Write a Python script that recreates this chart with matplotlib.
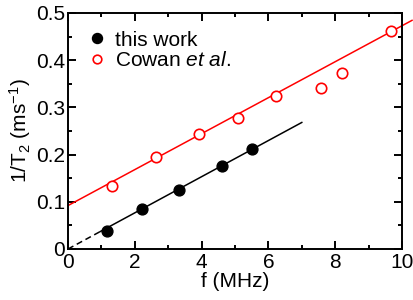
import matplotlib
matplotlib.use("Agg")
import matplotlib.pyplot as plt
import numpy as np

plt.rcParams['font.family'] = ['Liberation Sans', 'DejaVu Sans']
plt.rcParams['mathtext.fontset'] = 'custom'
plt.rcParams['mathtext.rm'] = 'Liberation Sans'
plt.rcParams['mathtext.it'] = 'Liberation Sans:italic'

# data
this_f = [1.16, 2.22, 3.32, 4.60, 5.50]
this_r = [0.039, 0.084, 0.126, 0.176, 0.212]
cowan_f = [1.31, 2.63, 3.93, 5.10, 6.23, 7.57, 8.20, 9.68]
cowan_r = [0.1335, 0.1956, 0.2436, 0.278, 0.3235, 0.341, 0.3735, 0.461]
fit_this_slope, fit_this_icpt = 0.0383, 0.0
fit_cowan_slope, fit_cowan_icpt = 0.0381, 0.092
xticks = [0, 2, 4, 6, 8, 10]
yticks = [0, 0.1, 0.2, 0.3, 0.4, 0.5]
yticklabels = ['0', '0.1', '0.2', '0.3', '0.4', '0.5']

FS = 15
fig = plt.figure(figsize=(4.14, 3.0), dpi=100)
ax = fig.add_axes([68/414, 1-249/300, (402-68)/414, (249-13)/300])

# fits
xs_solid = np.array([0.96, 7.0])
xs_dash = np.array([0.0, 0.96])
ax.plot(xs_solid, fit_this_slope*xs_solid + fit_this_icpt, color='black', lw=1.1, zorder=2)
ax.plot(xs_dash, fit_this_slope*xs_dash + fit_this_icpt, color='black', lw=1.1, ls=(0, (4, 2.5)), zorder=2)
xc = np.array([0.0, 10.3])
ax.plot(xc, fit_cowan_slope*xc + fit_cowan_icpt, color='red', lw=1.1, zorder=2, clip_on=False)

ax.plot(this_f, this_r, 'o', color='black', ms=7.8, ls='none', label='this work', zorder=3)
ax.plot(cowan_f, cowan_r, 'o', mfc='white', mec='red', mew=1.2, ms=7.5, ls='none',
        label=r'Cowan $\mathit{et\ al.}$', zorder=3)

ax.set_xlim(0, 10)
ax.set_ylim(0, 0.5)
ax.set_xticks(xticks)
ax.set_xticks(np.arange(0, 10.01, 1), minor=True)
ax.set_yticks(yticks)
ax.set_yticklabels(yticklabels)
ax.set_yticks(np.arange(0, 0.501, 0.05), minor=True)
ax.tick_params(which='both', direction='in', top=True, right=True, width=1.4, labelsize=FS)
ax.tick_params(axis='x', pad=3)
ax.tick_params(axis='y', pad=2)
ax.tick_params(which='major', length=5.5)
ax.tick_params(which='minor', length=3.2)
for s in ax.spines.values():
    s.set_linewidth(1.4)

ax.set_xlabel('f (MHz)', fontsize=FS, labelpad=0)
ax.set_ylabel(r'1/T$_2$ (ms$^{-1}$)', fontsize=FS, labelpad=2)

leg = ax.legend(loc='upper left', bbox_to_anchor=(0.024, 0.96), frameon=False, fontsize=FS,
                handletextpad=0.28, borderaxespad=0.0, labelspacing=0.05, handlelength=1.2)
hs = leg.legend_handles
hs[0].set_markersize(7.2)
hs[1].set_markersize(6.2)

fig.savefig('out.png', dpi=100)
